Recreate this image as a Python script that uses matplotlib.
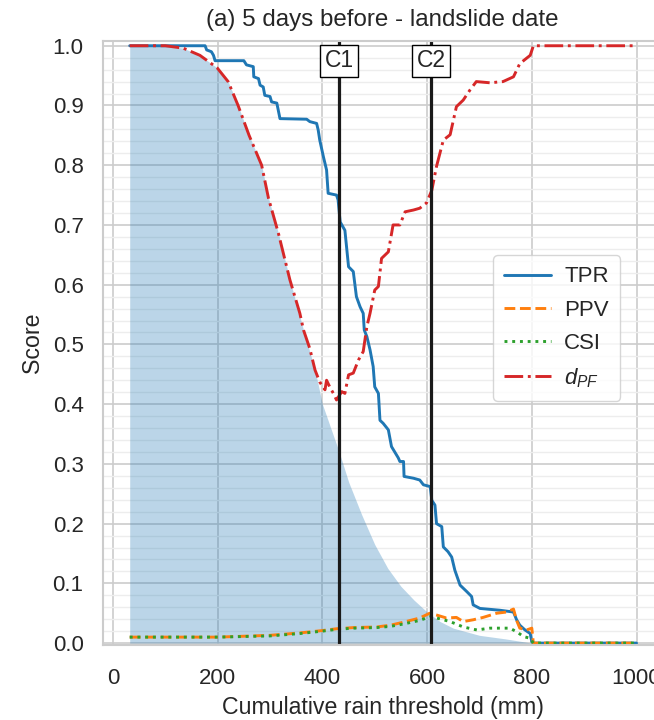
import numpy as np
import matplotlib
matplotlib.use("Agg")
import matplotlib.pyplot as plt
import seaborn as sns
from matplotlib.ticker import MultipleLocator, FormatStrFormatter

# threshold (mm) vs. score, read per curve
tpr_x = [32, 176, 179, 188, 192, 195, 250, 255, 268, 269, 278, 281, 287, 290, 300, 303, 313, 319,
         370, 376, 389, 392, 395, 402, 408, 411, 427, 430, 434, 443, 450, 459, 465, 472, 478, 480,
         485, 491, 497, 500, 507, 510, 516, 526, 532, 545, 548, 555, 556, 574, 586, 593, 606, 609,
         615, 618, 628, 631, 640, 647, 653, 663, 676, 685, 688, 701, 739, 765, 771, 777, 787, 797,
         800, 803, 1000]
tpr_y = [1.0, 1.0, 0.993, 0.99, 0.984, 0.975, 0.975, 0.968, 0.965, 0.948, 0.945, 0.934, 0.931, 0.917,
         0.915, 0.906, 0.904, 0.878, 0.877, 0.873, 0.870, 0.859, 0.842, 0.814, 0.792, 0.753, 0.750,
         0.742, 0.705, 0.691, 0.630, 0.622, 0.580, 0.563, 0.552, 0.524, 0.513, 0.491, 0.463, 0.429,
         0.418, 0.373, 0.368, 0.357, 0.329, 0.31, 0.304, 0.304, 0.279, 0.276, 0.273, 0.265, 0.262,
         0.239, 0.231, 0.200, 0.195, 0.161, 0.153, 0.144, 0.122, 0.097, 0.086, 0.078, 0.064, 0.058,
         0.055, 0.052, 0.039, 0.030, 0.022, 0.016, 0.002, 0.0, 0.0]

ppv_x = [32, 100, 200, 300, 357, 400, 427, 460, 504, 530, 555, 586, 605, 618, 637, 656, 669, 688,
         707, 733, 752, 765, 771, 777, 790, 800, 803, 1000]
ppv_y = [0.010, 0.010, 0.010, 0.013, 0.017, 0.021, 0.024, 0.026, 0.027, 0.030, 0.035, 0.042, 0.050,
         0.047, 0.042, 0.043, 0.036, 0.039, 0.043, 0.050, 0.052, 0.057, 0.038, 0.025, 0.022, 0.025,
         0.0, 0.0]

csi_x = [32, 200, 300, 357, 400, 427, 460, 504, 530, 555, 586, 605, 618, 644, 669, 695, 720, 758,
         771, 784, 797, 803, 1000]
csi_y = [0.010, 0.010, 0.012, 0.016, 0.020, 0.023, 0.025, 0.026, 0.028, 0.032, 0.038, 0.044, 0.042,
         0.036, 0.027, 0.022, 0.025, 0.025, 0.019, 0.011, 0.008, 0.0, 0.0]

dpf_x = [32, 100, 134, 166, 199, 220, 239, 260, 284, 297, 316, 338, 357, 364, 376, 386, 395, 405,
         408, 414, 421, 427, 437, 443, 450, 459, 469, 478, 485, 491, 500, 507, 513, 526, 535, 548,
         558, 574, 586, 599, 609, 618, 631, 644, 656, 669, 682, 694, 720, 745, 765, 777, 797, 803,
         1000]
dpf_y = [1.0, 1.0, 0.996, 0.984, 0.963, 0.94, 0.90, 0.85, 0.80, 0.745, 0.686, 0.608, 0.552, 0.524,
         0.493, 0.457, 0.437, 0.424, 0.440, 0.429, 0.418, 0.407, 0.421, 0.418, 0.449, 0.452, 0.474,
         0.488, 0.530, 0.552, 0.591, 0.597, 0.644, 0.655, 0.700, 0.700, 0.722, 0.725, 0.728, 0.737,
         0.758, 0.798, 0.842, 0.851, 0.898, 0.909, 0.926, 0.940, 0.938, 0.940, 0.948, 0.970, 0.984,
         1.0, 1.0]

# share of non-landslide days above the threshold (shaded area)
fpr_x = [32, 100, 134, 166, 199, 220, 239, 260, 284, 297, 316, 338, 364, 386, 400, 432, 450, 475,
         500, 525, 550, 575, 600, 625, 650, 700, 750, 800, 1000]
fpr_y = [1.0, 1.0, 0.996, 0.984, 0.963, 0.94, 0.90, 0.85, 0.80, 0.745, 0.686, 0.608, 0.524, 0.457,
         0.40, 0.32, 0.27, 0.215, 0.165, 0.125, 0.095, 0.072, 0.052, 0.036, 0.025, 0.013, 0.007,
         0.0, 0.0]

cuts = [432, 608]
cut_names = ["C1", "C2"]

blue, orange, green, red = "#1f77b4", "#ff7f0e", "#2ca02c", "#d62728"

sns.set_theme(style="whitegrid")
plt.rcParams["font.family"] = ["Liberation Sans", "DejaVu Sans"]
plt.rcParams["mathtext.fontset"] = "custom"
plt.rcParams["mathtext.it"] = "Liberation Sans:italic"
plt.rcParams["mathtext.rm"] = "Liberation Sans"

fig = plt.figure(figsize=(6.54, 7.2), dpi=100)
ax = fig.add_axes([0.1575, 0.1035, 0.855, 0.8396])

ax.fill_between(fpr_x, fpr_y, color=blue, alpha=0.3, lw=0)
ax.plot(tpr_x, tpr_y, "-", color=blue, lw=2.1, label="TPR")
ax.plot(ppv_x, ppv_y, "--", color=orange, lw=2.1, label="PPV")
ax.plot(csi_x, csi_y, ":", color=green, lw=2.1, label="CSI")
ax.plot(dpf_x, dpf_y, "-.", color=red, lw=2.1, label="$d_{PF}$")

for c, name in zip(cuts, cut_names):
    ax.axvline(c, color="k", lw=2.3)
    ax.text(c, 0.975, name, ha="center", va="center", fontsize=16.5, color=".15",
            bbox=dict(boxstyle="square,pad=0.2", fc="white", ec="black", lw=1))

ax.set_xlim(-19, 1049)
ax.set_ylim(-0.004, 1.008)
ax.xaxis.set_major_locator(MultipleLocator(200))
ax.yaxis.set_major_locator(MultipleLocator(0.1))
ax.yaxis.set_minor_locator(MultipleLocator(0.02))
ax.yaxis.set_major_formatter(FormatStrFormatter("%.1f"))
ax.grid(which="major", color=".8", lw=1.2)
ax.grid(which="minor", axis="y", color=".93", lw=1)
ax.tick_params(axis="both", labelsize=16, pad=14, colors=".15", length=0)
ax.tick_params(axis="x", pad=16)
for s in ax.spines.values():
    s.set_color(".8")
    s.set_linewidth(1.5)

ax.set_xlabel("Cumulative rain threshold (mm)", fontsize=16.7, color=".15", labelpad=5.5)
ax.set_ylabel("Score", fontsize=16.7, color=".15", labelpad=6)
ax.set_title("(a) 5 days before - landslide date", fontsize=17.4, color=".15", pad=11)

ax.legend(loc="upper left", bbox_to_anchor=(0.678, 0.664), fontsize=16, labelspacing=0.55,
          handlelength=2.1, handletextpad=0.6, borderpad=0.5, frameon=True)

fig.savefig("out.png", dpi=100)
